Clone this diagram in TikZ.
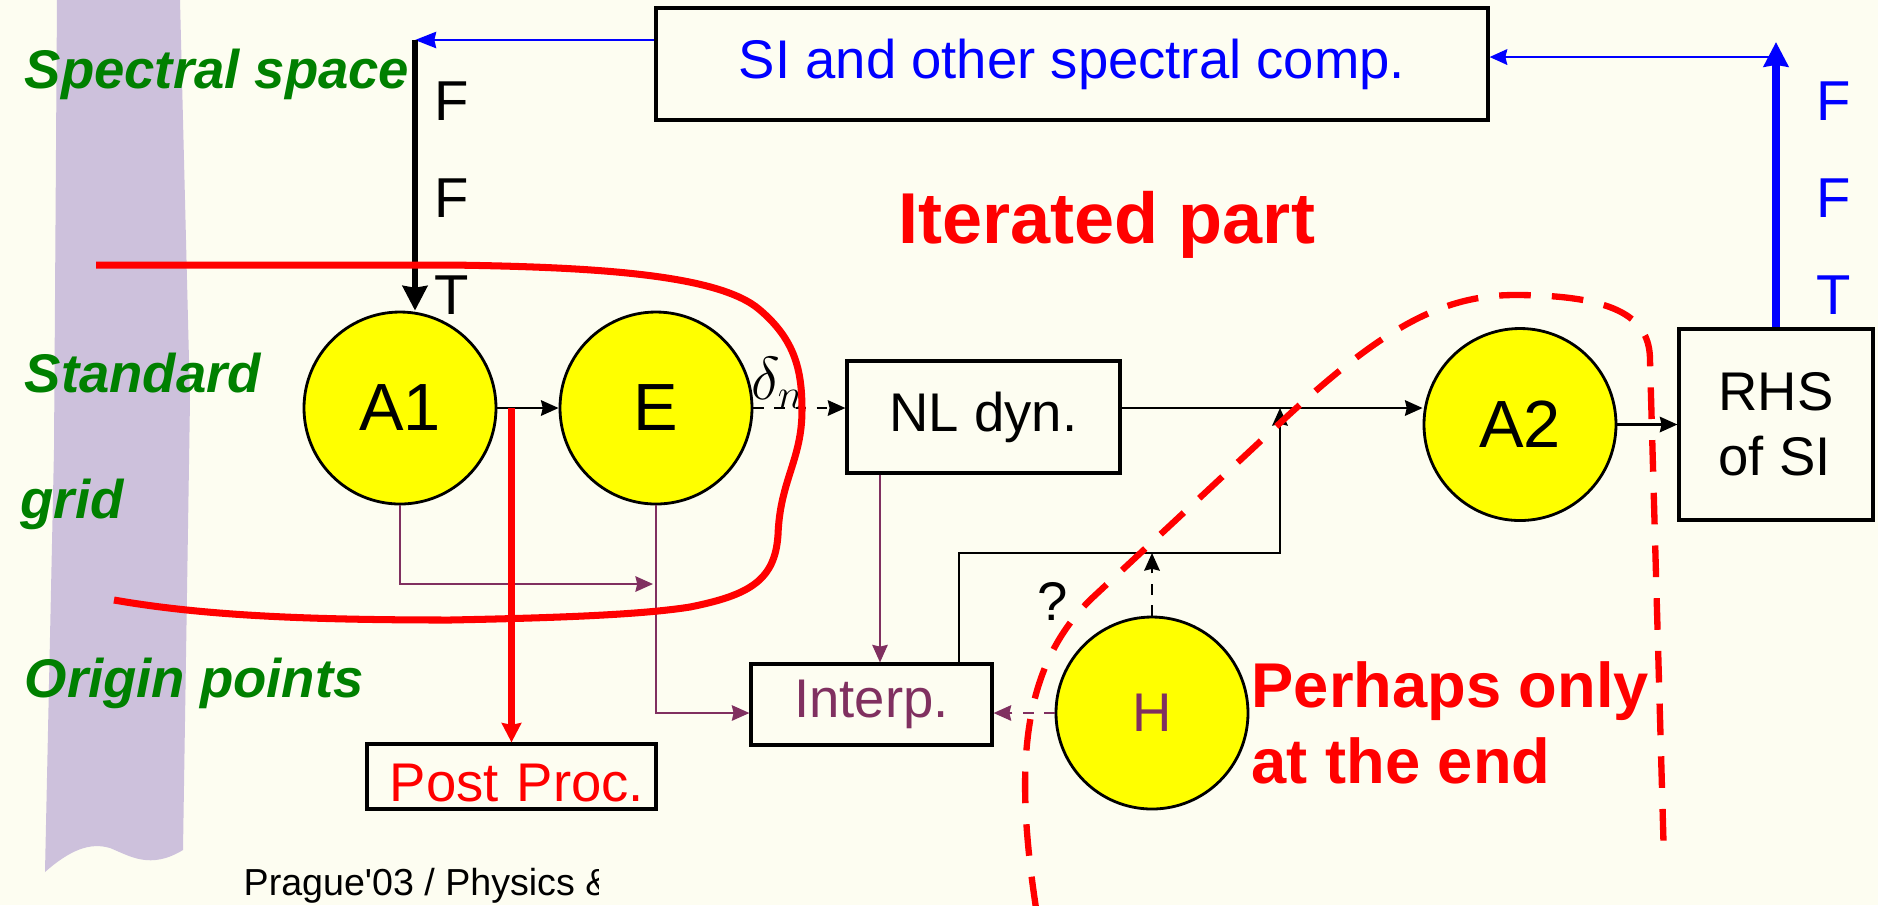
\documentclass[tikz,border=0pt]{standalone}
\usepackage{fontspec}
\setmainfont{Liberation Sans}
\usetikzlibrary{arrows.meta}
\definecolor{paper}{RGB}{253,253,241}
\definecolor{stripe}{RGB}{205,193,220}
\definecolor{spacegreen}{RGB}{0,128,0}
\definecolor{specblue}{RGB}{0,0,255}
\definecolor{hotred}{RGB}{255,0,0}
\definecolor{plum}{RGB}{128,48,96}
\definecolor{opyellow}{RGB}{255,255,0}

\begin{document}
\begin{tikzpicture}[>={Stealth[length=5pt,width=4.4pt,inset=0.5pt]}, font=\fontsize{15.5}{18.6}\selectfont,
  opcircle/.style={circle, draw=black, line width=0.8pt, fill=opyellow, minimum size=1.92cm, inner sep=0pt},
  bigop/.style={opcircle, font=\fontsize{19}{22}\selectfont},
  stepbox/.style={rectangle, draw=black, line width=0.9pt, inner sep=0pt, align=center},
  zone/.style={font=\fontsize{15.5}{18.6}\selectfont\bfseries\itshape, text=spacegreen, anchor=base west, inner sep=0pt},
  remark/.style={font=\fontsize{18}{21.5}\selectfont\bfseries, text=hotred, inner sep=0pt},
  fftlabel/.style={font=\fontsize{16}{19}\selectfont, inner sep=0pt},
  flow/.style={line width=0.7pt},
  plumflow/.style={line width=0.6pt, draw=plum},
  specflow/.style={line width=0.8pt, draw=specblue},
  fatflow/.style={line width=2pt, -{Stealth[length=7pt,width=7pt,inset=0.5pt]}},
  iterline/.style={line width=2pt, draw=hotred},
  endline/.style={line width=1.8pt, draw=hotred, dash pattern=on 9pt off 6pt}]

% page and grid stripe
\useasboundingbox (0,0) rectangle (18.78,-9.05);
\fill[paper] (0,0) rectangle (18.78,-9.05);
\fill[stripe] (0.57,0) -- (0.54,-4.5) -- (0.45,-8.72)
  .. controls (0.7,-8.5) and (0.9,-8.42) .. (1.1,-8.48)
  .. controls (1.3,-8.56) and (1.5,-8.7) .. (1.83,-8.5)
  -- (1.9,-4.0) -- (1.8,0) -- cycle;

% levels
\node[zone] (specspace) at (0.24,-0.88) {Spectral space};
\node[zone] (standard) at (0.24,-3.92) {Standard};
\node[zone] (gridlab) at (0.20,-5.18) {grid};
\node[zone] (origin) at (0.24,-6.97) {Origin points};

% boxes and operators
\node[stepbox, minimum width=8.32cm, minimum height=1.12cm, text=specblue] (si) at (10.72,-0.64) {SI and other spectral comp.};
\node[bigop] (aone) at (4.00,-4.08) {A1};
\node[bigop] (ee) at (6.56,-4.08) {E};
\node[stepbox, minimum width=2.73cm, minimum height=1.12cm] (nldyn) at (9.835,-4.17) {NL dyn.};
\node[bigop] (atwo) at (15.20,-4.245) {A2};
\node[stepbox, minimum width=1.94cm, minimum height=1.91cm, align=left] (rhs) at (17.76,-4.245) {RHS\\of SI};
\node[stepbox, minimum width=2.41cm, minimum height=0.81cm, text=plum] (interp) at (8.715,-7.045) {Interp.};
\node[opcircle, text=plum] (hh) at (11.52,-7.13) {H};
\node[stepbox, text=hotred, text height=0.5cm, text depth=0pt, inner ysep=0.075cm, inner xsep=0.12cm, text width=2.65cm, align=right] (postproc) at (5.115,-7.765) {Post Proc.};

% labels
\node[fftlabel] (fone) at (4.52,-1.01) {F};
\node[fftlabel] (ftwo) at (4.52,-1.98) {F};
\node[fftlabel] (tone) at (4.52,-2.95) {T};
\node[fftlabel, text=specblue] (bfone) at (18.34,-1.01) {F};
\node[fftlabel, text=specblue] (bftwo) at (18.34,-1.98) {F};
\node[fftlabel, text=specblue] (btone) at (18.34,-2.95) {T};
\node[inner sep=0pt, font=\fontsize{17}{20}\selectfont] (deltan) at (7.78,-3.83) {$\delta_n$};
\node[inner sep=0pt] (qmark) at (10.53,-6.01) {?};
\node[remark, font=\fontsize{20.5}{24}\selectfont\bfseries, anchor=base west] (iterated) at (8.98,-2.43) {Iterated part};
\node[remark, anchor=base west, align=left] (perhaps) at (12.51,-7.83) {Perhaps only\\at the end};
\begin{scope}
  \clip (0,-8.3) rectangle (5.98,-9.05);
  \node[font=\fontsize{10.7}{13}\selectfont, anchor=base west, inner sep=0pt] (footer) at (2.43,-8.95) {Prague\textquotesingle 03 / Physics \&};
\end{scope}

% connectors
\coordinate (spectop) at (4.15,-0.40);
\coordinate (ffttop) at (17.76,-0.42);
\coordinate (fftjoin) at (17.76,-0.57);
\coordinate (amerge) at (6.53,-5.84);
\coordinate (joinpt) at (12.80,-4.08);
\coordinate (hjoin) at (12.80,-5.53);

\draw[specflow,-{Stealth[length=6pt,width=4.6pt,inset=0.5pt]}] (si.west |- spectop) -- (spectop);
\draw[fatflow, line width=1.6pt] (spectop) -- (spectop |- aone.north);
\draw[fatflow, draw=specblue, fill=specblue] (rhs.north) -- (ffttop);
\draw[specflow,->] (fftjoin) -- (fftjoin -| si.east);
\draw[flow,->] (aone) -- (ee);
\draw[flow,dashed,->] (ee.east) -- (ee.east -| nldyn.west);
\draw[flow,->] (ee -| nldyn.east) -- (ee -| atwo.west);
\draw[flow,->] (atwo) -- (rhs);
\draw[plumflow,->] (aone.south) |- (amerge);
\draw[plumflow,->] (ee.south) |- (interp.west |- hh);
\draw[plumflow,->] ([xshift=-1.035cm]nldyn.south) -- ([xshift=0.085cm]interp.north);
\draw[plumflow,dashed,->] (hh.west) -- (interp.east |- hh);
\draw[flow,->] ([xshift=0.875cm]interp.north) |- (hjoin) -- (joinpt);
\draw[flow,dashed,->] (hh.north) -- (hh.north |- hjoin);
\draw[line width=1.8pt, draw=hotred, -{Stealth[length=5.5pt,width=5.5pt,inset=0.5pt]}] (aone -| postproc.north) -- (postproc.north);

% iterated part and end-only part
\draw[iterline] (0.96,-2.65) -- (4.5,-2.65)
  .. controls (6.0,-2.67) and (7.2,-2.75) .. (7.6,-3.1)
  .. controls (7.95,-3.4) and (8.02,-3.7) .. (8.02,-4.1)
  .. controls (8.02,-4.6) and (7.8,-4.8) .. (7.78,-5.35)
  .. controls (7.75,-5.8) and (7.5,-5.95) .. (6.9,-6.07)
  .. controls (6.4,-6.15) and (5.5,-6.18) .. (4.5,-6.2)
  .. controls (3.0,-6.2) and (2.0,-6.15) .. (1.14,-6.0);
\draw[endline] (10.36,-9.08)
  .. controls (10.15,-7.7) and (10.2,-6.7) .. (10.9,-6.0) -- (12.8,-4.23)
  .. controls (13.8,-3.3) and (14.4,-2.95) .. (15.15,-2.95)
  .. controls (16.2,-2.95) and (16.5,-3.2) .. (16.5,-3.6) -- (16.64,-8.6);
\end{tikzpicture}
\end{document}
